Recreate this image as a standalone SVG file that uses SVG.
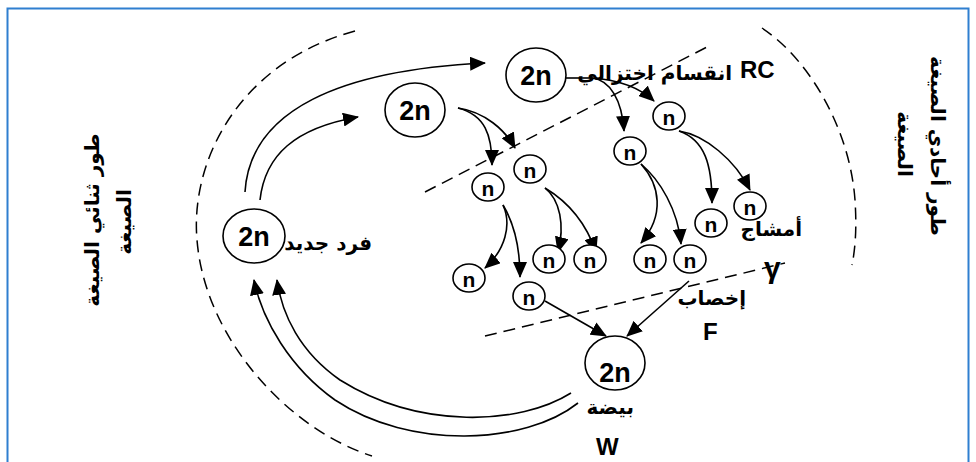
<svg xmlns="http://www.w3.org/2000/svg" width="976" height="462" viewBox="0 0 976 462">
<defs>
<marker id="ah" markerWidth="16" markerHeight="14" refX="15" refY="7" orient="auto" markerUnits="userSpaceOnUse">
<path d="M0,0 L16,7 L0,14 Z" fill="#000"/>
</marker>
<style>
.c{fill:#fff;stroke:#000;stroke-width:1.6}
.t{font-family:"Liberation Sans","DejaVu Sans",sans-serif;font-weight:bold;fill:#000}
.big{font-size:27px;text-anchor:middle}
.sm{font-size:21px;text-anchor:middle}
.ar{font-family:"DejaVu Sans","Liberation Sans",sans-serif;font-weight:bold;fill:#000;font-size:20px}
.con path{fill:none;stroke:#000;stroke-width:1.6}
.arr{marker-end:url(#ah)}
.dash{fill:none;stroke:#000;stroke-width:1.5;stroke-dasharray:12 7}
</style>
</defs>
<rect x="0" y="0" width="976" height="462" fill="#fff"/>
<rect x="7.5" y="8.5" width="961" height="470" fill="none" stroke="#2f7fd0" stroke-width="2"/>

<g id="dashes">
<path class="dash" d="M355,31 C240,62 190,160 197,240 C205,340 290,430 372,456"/>
<path class="dash" d="M762,28 C810,60 850,130 855,200 C857,230 855,250 852,265"/>
<path class="dash" d="M425,192 L707,47"/>
<path class="dash" d="M485,336 L785,263"/>
</g>

<g id="connectors" class="con">
<path class="arr" d="M245,192 C250,110 340,70 485,63"/>
<path class="arr" d="M260,200 C265,155 295,128 358,117"/>
<path class="arr" d="M571,393 C520,425 420,430 340,380 C300,352 282,315 277,280"/>
<path class="arr" d="M578,403 C525,445 410,450 335,400 C290,368 262,320 254,280"/>
<path class="arr" d="M458,108 C485,115 492,135 492,165"/>
<path class="arr" d="M458,108 C485,112 505,130 515,148"/>
<path d="M566,78 H592"/>
<path class="arr" d="M592,78 C610,80 622,100 624,131"/>
<path class="arr" d="M592,78 C620,80 640,88 654,101"/>
<path class="arr" d="M503,205 C512,225 505,250 485,268"/>
<path class="arr" d="M503,205 C515,225 520,250 520,277"/>
<path class="arr" d="M545,188 C560,200 565,225 558,252"/>
<path class="arr" d="M545,188 C565,200 585,220 596,252"/>
<path class="arr" d="M641,164 C660,185 665,215 641,243"/>
<path class="arr" d="M641,164 C660,180 678,210 681,244"/>
<path class="arr" d="M679,131 C705,140 712,165 712,203"/>
<path class="arr" d="M679,131 C705,135 735,160 750,190"/>
<path class="arr" d="M545,301 L606,336"/>
<path class="arr" d="M689,281 L627,336"/>
</g>

<g id="node-top"><ellipse class="c" cx="536" cy="75" rx="30" ry="27"/><text class="t big" x="536" y="85">2n</text></g>
<g id="node-left"><ellipse class="c" cx="415" cy="110" rx="30" ry="27"/><text class="t big" x="415" y="120">2n</text></g>
<g id="node-new"><ellipse class="c" cx="254" cy="236" rx="31" ry="27"/><text class="t big" x="254" y="246">2n</text></g>
<g id="node-egg"><ellipse class="c" cx="615" cy="363" rx="30" ry="27"/><text class="t big" x="615" y="382">2n</text></g>

<g id="n1"><ellipse class="c" cx="488" cy="187" rx="16" ry="14"/><text class="t sm" x="488" y="196">n</text></g>
<g id="n2"><ellipse class="c" cx="530" cy="169" rx="16" ry="14"/><text class="t sm" x="530" y="178">n</text></g>
<g id="n3"><ellipse class="c" cx="469" cy="278" rx="16" ry="14"/><text class="t sm" x="469" y="287">n</text></g>
<g id="n4"><ellipse class="c" cx="529" cy="296" rx="16" ry="14"/><text class="t sm" x="529" y="305">n</text></g>
<g id="n5"><ellipse class="c" cx="549" cy="259" rx="16" ry="14"/><text class="t sm" x="549" y="268">n</text></g>
<g id="n6"><ellipse class="c" cx="590" cy="259" rx="16" ry="14"/><text class="t sm" x="590" y="268">n</text></g>
<g id="n7"><ellipse class="c" cx="630" cy="151" rx="16" ry="14"/><text class="t sm" x="630" y="160">n</text></g>
<g id="n8"><ellipse class="c" cx="669" cy="116" rx="16" ry="14"/><text class="t sm" x="669" y="125">n</text></g>
<g id="n9"><ellipse class="c" cx="711" cy="223" rx="16" ry="14"/><text class="t sm" x="711" y="232">n</text></g>
<g id="n10"><ellipse class="c" cx="750" cy="206" rx="16" ry="14"/><text class="t sm" x="750" y="215">n</text></g>
<g id="n11"><ellipse class="c" cx="650" cy="259" rx="16" ry="14"/><text class="t sm" x="650" y="268">n</text></g>
<g id="n12"><ellipse class="c" cx="690" cy="259" rx="16" ry="14"/><text class="t sm" x="690" y="268">n</text></g>

<g id="labels">
<text class="ar" x="732" y="80" text-anchor="end">انقسام اختزالي</text>
<text class="t" x="740" y="78" font-size="24">RC</text>
<text class="ar" x="802" y="236" text-anchor="end">أمشاج</text>
<text class="t" x="764" y="278" font-size="30">γ</text>
<text class="ar" x="746" y="305" text-anchor="end">إخصاب</text>
<text class="t" x="703" y="340" font-size="24">F</text>
<text class="ar" x="634" y="414" text-anchor="end">بيضة</text>
<text class="t" x="596" y="455" font-size="24">W</text>
<text class="ar" x="372" y="250" text-anchor="end" font-size="21">فرد جديد</text>
<text class="ar" transform="translate(99,220) rotate(-90)" text-anchor="middle" font-size="24">طور ثنائي الصيغة</text>
<text class="ar" transform="translate(131,222) rotate(-90)" text-anchor="middle" font-size="23">الصيغة</text>
<text class="ar" transform="translate(931,146) rotate(90)" text-anchor="middle" font-size="23">طور أحادي الصيغة</text>
<text class="ar" transform="translate(898,144) rotate(90)" text-anchor="middle" font-size="22">الصيغة</text>
</g>
</svg>
